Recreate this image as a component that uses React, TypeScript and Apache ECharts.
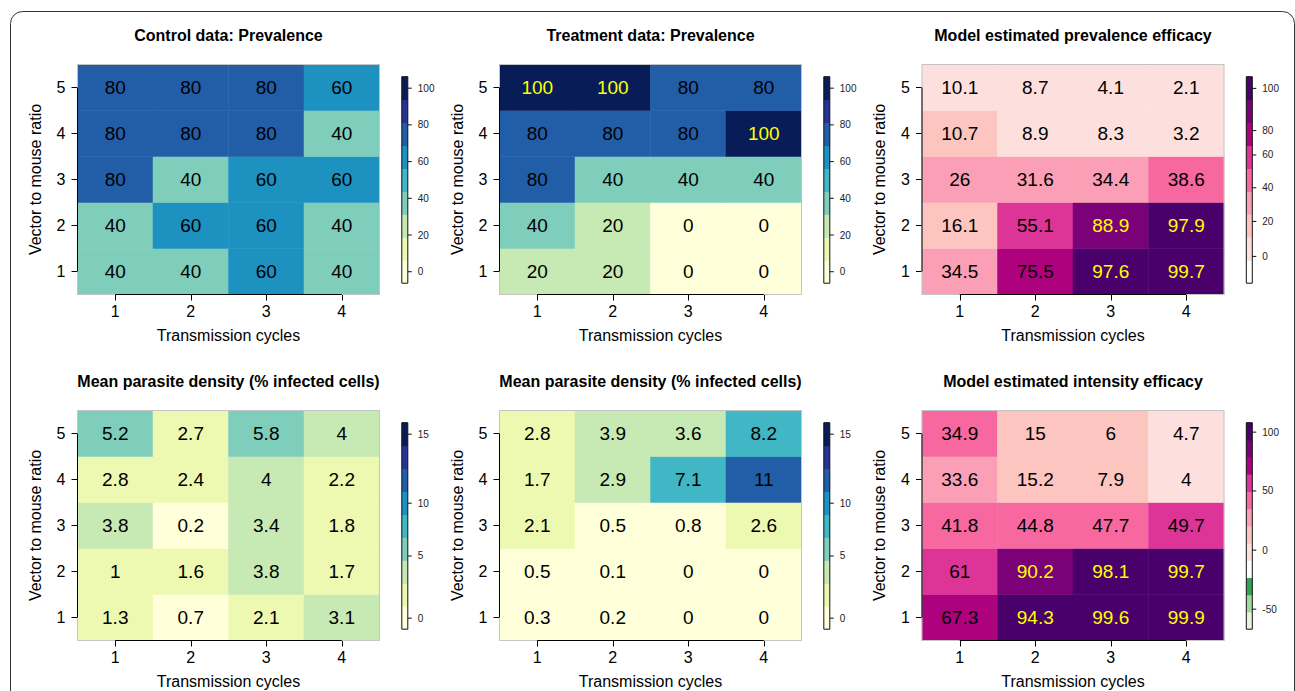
import React, { useEffect, useRef } from "react";
import * as echarts from "echarts";

const FONT = "'Liberation Sans', Arial, Helvetica, sans-serif";

const xCats = ["1", "2", "3", "4"];
const yCats = ["1", "2", "3", "4", "5"];

const titles = [
  "Control data: Prevalence",
  "Treatment data: Prevalence",
  "Model estimated prevalence efficacy",
  "Mean parasite density (% infected cells)",
  "Mean parasite density (% infected cells)",
  "Model estimated intensity efficacy",
];

// rows listed from y = 1 (bottom) to y = 5 (top), columns x = 1..4
const controlPrevalence = [
  [40, 40, 60, 40],
  [40, 60, 60, 40],
  [80, 40, 60, 60],
  [80, 80, 80, 40],
  [80, 80, 80, 60],
];
const treatmentPrevalence = [
  [20, 20, 0, 0],
  [40, 20, 0, 0],
  [80, 40, 40, 40],
  [80, 80, 80, 100],
  [100, 100, 80, 80],
];
const prevalenceEfficacy = [
  [34.5, 75.5, 97.6, 99.7],
  [16.1, 55.1, 88.9, 97.9],
  [26, 31.6, 34.4, 38.6],
  [10.7, 8.9, 8.3, 3.2],
  [10.1, 8.7, 4.1, 2.1],
];
const controlDensity = [
  [1.3, 0.7, 2.1, 3.1],
  [1, 1.6, 3.8, 1.7],
  [3.8, 0.2, 3.4, 1.8],
  [2.8, 2.4, 4, 2.2],
  [5.2, 2.7, 5.8, 4],
];
const treatmentDensity = [
  [0.3, 0.2, 0, 0],
  [0.5, 0.1, 0, 0],
  [2.1, 0.5, 0.8, 2.6],
  [1.7, 2.9, 7.1, 11],
  [2.8, 3.9, 3.6, 8.2],
];
const intensityEfficacy = [
  [67.3, 94.3, 99.6, 99.9],
  [61, 90.2, 98.1, 99.7],
  [41.8, 44.8, 47.7, 49.7],
  [33.6, 15.2, 7.9, 4],
  [34.9, 15, 6, 4.7],
];

// colour breaks (block boundaries of each colour key)
const prevalenceBreaks = [-6.25, 6.25, 18.75, 31.25, 43.75, 56.25, 68.75, 81.25, 93.75, 106.25];
const densityBreaks = [-0.89, 0.96, 2.85, 4.57, 6.82, 9.07, 10.96, 12.58, 14.2, 15.8];
const prevEffBreaks = [-15.3, -2.1, 10.4, 24.3, 37.8, 51.7, 65.8, 87.6, 94.7, 105.5];
const intensityBreaks = [-67, -52.4, -37.8, -23.3, -8.7, 5.9, 20.5, 34.5, 49.5, 64.2, 78.8, 93.4, 108];

const ylgnbu = ["#ffffd9", "#edf8b1", "#c7e9b4", "#7fcdbb", "#41b6c4", "#1d91c0", "#225ea8", "#253494", "#081d58"];
const rdpu = ["#ffffff", "#fde0dd", "#fcc5c0", "#fa9fb5", "#f768a1", "#dd3497", "#ae017e", "#7a0177", "#49006a"];
const greenRdpu = ["#e5f5e0", "#a1d99b", "#31a354", "#ffffff", "#fde0dd", "#fcc5c0", "#fa9fb5", "#f768a1", "#dd3497", "#ae017e", "#7a0177", "#49006a"];

const prevalenceTicks = [0, 20, 40, 60, 80, 100];
const densityTicks = [0, 5, 10, 15];
const intensityTicks = [-50, 0, 50, 100];

const panels = [
  { title: titles[0], data: controlPrevalence, breaks: prevalenceBreaks, colors: ylgnbu, ticks: prevalenceTicks },
  { title: titles[1], data: treatmentPrevalence, breaks: prevalenceBreaks, colors: ylgnbu, ticks: prevalenceTicks },
  { title: titles[2], data: prevalenceEfficacy, breaks: prevEffBreaks, colors: rdpu, ticks: prevalenceTicks },
  { title: titles[3], data: controlDensity, breaks: densityBreaks, colors: ylgnbu, ticks: densityTicks },
  { title: titles[4], data: treatmentDensity, breaks: densityBreaks, colors: ylgnbu, ticks: densityTicks },
  { title: titles[5], data: intensityEfficacy, breaks: intensityBreaks, colors: greenRdpu, ticks: intensityTicks },
];

const gridLefts = [77.5, 499.5, 922];
const gridTops = [64.5, 410.5];
const GW = 302;
const GH = 230;

function idxOf(v: number, breaks: number[]) {
  let k = 0;
  while (k < breaks.length - 2 && v >= breaks[k + 1]) k++;
  return k;
}
function valToPos(v: number, breaks: number[]) {
  const k = idxOf(v, breaks);
  return k + (v - breaks[k]) / (breaks[k + 1] - breaks[k]);
}

function buildOption() {
  const grid: any[] = [];
  const xAxis: any[] = [];
  const yAxis: any[] = [];
  const heatSeries: any[] = [];
  const otherSeries: any[] = [];
  const visualMap: any[] = [];
  const graphic: any[] = [
    {
      type: "rect",
      shape: { x: 10.5, y: 11.5, width: 1284, height: 720, r: 12 },
      style: { fill: "none", stroke: "#333", lineWidth: 1 },
      silent: true,
    },
  ];

  panels.forEach((p, i) => {
    const col = i % 3;
    const row = Math.floor(i / 3);
    const left = gridLefts[col];
    const top = gridTops[row];
    const hg = grid.length;
    grid.push({ left, top, width: GW, height: GH, containLabel: false });
    xAxis.push({
      gridIndex: hg,
      type: "category",
      data: xCats,
      axisLine: { show: false },
      axisTick: { show: true, alignWithLabel: true, length: 6, lineStyle: { color: "#000", width: 1 } },
      axisLabel: { fontSize: 16, color: "#000", margin: 9, fontFamily: FONT },
      splitLine: { show: false },
      name: "Transmission cycles",
      nameLocation: "middle",
      nameGap: 33,
      nameTextStyle: { fontSize: 16, color: "#000", fontFamily: FONT },
    });
    yAxis.push({
      gridIndex: hg,
      type: "category",
      data: yCats,
      axisLine: { show: false },
      axisTick: { show: true, alignWithLabel: true, length: 6, lineStyle: { color: "#000", width: 1 } },
      axisLabel: { fontSize: 16, color: "#000", margin: 12, fontFamily: FONT },
      splitLine: { show: false },
      name: "Vector to mouse ratio",
      nameLocation: "middle",
      nameGap: 34.5,
      nameTextStyle: { fontSize: 16, color: "#000", fontFamily: FONT },
    });
    const n = p.colors.length;
    const items: any[] = [];
    p.data.forEach((rowVals, yi) => {
      rowVals.forEach((v, xi) => {
        const k = idxOf(v, p.breaks);
        items.push({ value: [xi, yi, v], label: { color: k >= n - 2 ? "#ffff00" : "#000" } });
      });
    });
    heatSeries.push({
      type: "heatmap",
      xAxisIndex: hg,
      yAxisIndex: hg,
      data: items,
      label: {
        show: true,
        fontSize: 19,
        fontFamily: FONT,
        formatter: (q: any) => String(q.value[2]),
      },
      emphasis: { disabled: true },
      silent: true,
    });
    visualMap.push({
      type: "piecewise",
      show: false,
      seriesIndex: i,
      dimension: 2,
      pieces: p.breaks.slice(0, -1).map((b, k) => ({ gte: b, lt: p.breaks[k + 1], color: p.colors[k] })),
    });
    otherSeries.push({
      type: "custom",
      xAxisIndex: hg,
      yAxisIndex: hg,
      data: [[0, 0]],
      z: 10,
      silent: true,
      renderItem: (params: any, api: any) => {
        const cs = params.coordSys;
        const p0 = api.coord([0, 0]);
        const p1 = api.coord([xCats.length - 1, yCats.length - 1]);
        const bottom = cs.y + cs.height;
        return {
          type: "group",
          children: [
            { type: "rect", shape: { x: cs.x, y: cs.y, width: cs.width, height: cs.height }, style: { fill: "none", stroke: "#c4c4c4", lineWidth: 1 } },
            { type: "line", shape: { x1: p0[0], y1: bottom, x2: p1[0], y2: bottom }, style: { stroke: "#000", lineWidth: 1 } },
            { type: "line", shape: { x1: cs.x, y1: p0[1], x2: cs.x, y2: p1[1] }, style: { stroke: "#000", lineWidth: 1 } },
          ],
        };
      },
    });

    // colour key
    const bg = grid.length;
    grid.push({ left: left + GW + 22.3, top: top + 12.2, width: 6, height: 206.5 });
    xAxis.push({ gridIndex: bg, type: "value", min: 0, max: 1, show: false });
    yAxis.push({ gridIndex: bg, type: "value", min: 0, max: n, show: false });
    otherSeries.push({
      type: "custom",
      xAxisIndex: bg,
      yAxisIndex: bg,
      silent: true,
      data: p.colors.map((_, k) => [0, k]),
      renderItem: (params: any, api: any) => {
        const k = api.value(1);
        const a = api.coord([0, k]);
        const b = api.coord([1, k + 1]);
        return {
          type: "rect",
          shape: { x: a[0], y: b[1], width: b[0] - a[0], height: a[1] - b[1] + 0.5 },
          style: { fill: p.colors[k] },
        };
      },
    });
    otherSeries.push({
      type: "custom",
      xAxisIndex: bg,
      yAxisIndex: bg,
      silent: true,
      z: 5,
      data: [[0, 0]],
      renderItem: (params: any, api: any) => {
        const a = api.coord([0, 0]);
        const b = api.coord([1, n]);
        return {
          type: "rect",
          shape: { x: a[0], y: b[1], width: b[0] - a[0], height: a[1] - b[1] },
          style: { fill: "none", stroke: "#111", lineWidth: 1 },
        };
      },
    });
    otherSeries.push({
      type: "custom",
      xAxisIndex: bg,
      yAxisIndex: bg,
      silent: true,
      z: 5,
      data: p.ticks.map((t) => [1, valToPos(t, p.breaks), t]),
      renderItem: (params: any, api: any) => {
        const pt = api.coord([1, api.value(1)]);
        return {
          type: "group",
          children: [
            { type: "line", shape: { x1: pt[0], y1: pt[1], x2: pt[0] + 4, y2: pt[1] }, style: { stroke: "#111", lineWidth: 1 } },
            {
              type: "text",
              x: pt[0] + 10,
              y: pt[1],
              style: { text: String(api.value(2)), fontSize: 10, fontFamily: FONT, fill: "#222", align: "left", verticalAlign: "middle" },
            },
          ],
        };
      },
    });

    graphic.push({
      type: "text",
      x: left + GW / 2,
      y: top - 29.5,
      silent: true,
      style: { text: p.title, fontSize: 16, fontWeight: "bold", fontFamily: FONT, fill: "#000", align: "center", verticalAlign: "middle" },
    });
  });

  return {
    animation: false,
    backgroundColor: "#ffffff",
    textStyle: { fontFamily: FONT },
    grid,
    xAxis,
    yAxis,
    visualMap,
    series: [...heatSeries, ...otherSeries],
    graphic,
  };
}

export default function App() {
  const ref = useRef<HTMLDivElement>(null);
  useEffect(() => {
    if (!ref.current) return;
    const chart = echarts.init(ref.current, undefined, { renderer: "svg" });
    chart.setOption(buildOption() as any);
    return () => chart.dispose();
  }, []);
  return <div ref={ref} style={{ position: "absolute", left: 0, top: 0, width: 1295, height: 691 }} />;
}
